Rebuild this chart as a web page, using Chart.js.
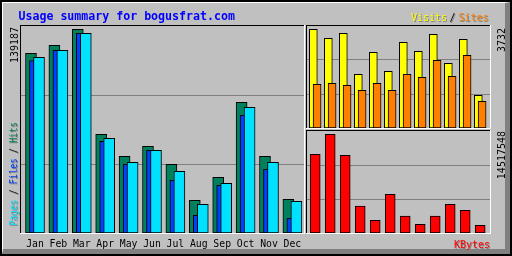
<!DOCTYPE html>
<html><head><meta charset="utf-8">
<script src="https://cdn.jsdelivr.net/npm/chart.js@4"></script>
<style>
html,body{margin:0;padding:0;background:#c0c0c0;}
#frame{position:absolute;left:0;top:0;width:512px;height:256px;box-sizing:border-box;border:2px solid #000;background:#c0c0c0;}
#bevel{position:absolute;left:0;top:0;right:0;bottom:0;border-top:1px solid #fff;border-left:1px solid #fff;border-right:5px solid #808080;border-bottom:5px solid #808080;}
canvas{position:absolute;left:0;top:0;}
</style></head><body>
<div id="frame"><div id="bevel"></div></div>
<canvas id="main" width="512" height="256"></canvas>
<canvas id="vs" width="512" height="256"></canvas>
<canvas id="kb" width="512" height="256"></canvas>
<script>
// ---- data ----
const titleText = 'Usage summary for bogusfrat.com';
const months = ['Jan','Feb','Mar','Apr','May','Jun','Jul','Aug','Sep','Oct','Nov','Dec'];
const hits   = [122790,128250,139187,67440,52410,59240,46940,22340,38060,89310,52410,23030];
const files  = [117730,124840,136460,62660,46940,56510,36010,12090,32590,80430,43530,10050];
const pages  = [120060,124840,136460,64710,48310,56510,42160,19610,33960,85890,48310,21660];
const visits = [3732,3392,3581,2030,2862,2144,3240,2900,3543,2446,3354,1236];
const sites  = [1652,1690,1614,1425,1690,1425,2030,1917,2560,1955,2749,1010];
const kbytes = [11575700,14517548,11428700,3971300,1868000,5692300,2500500,1279700,2500500,4221400,3338900,1132600];
const maxLabels = ['139187','3732','14517548'];
const seriesNames = ['Pages','Files','Hits','Visits','Sites','KBytes'];

// ---- styles ----
const C = {pages:'#00e0ff', files:'#0040ff', hits:'#00805c', visits:'#ffff00', sites:'#ff8000', kbytes:'#ff0000', grid:'#808080', shadow:'#808080'};
const MONO = "'DejaVu Sans Mono', monospace";

function yAxis(max){
  return { type:'linear', min:0, max:max, display:true,
    afterFit: s => { s.width = 0; },
    afterBuildTicks: s => { s.ticks = [{value:max/3},{value:2*max/3}]; },
    ticks:{display:false},
    grid:{color:C.grid, lineWidth:1, drawTicks:false},
    border:{display:false} };
}
function xAxis(min, max, show){
  const ax = { type:'linear', min:min, max:max, offset:false, display:show,
    grid:{display:false, drawTicks:false, offset:false}, border:{display:false} };
  if (show){
    ax.afterBuildTicks = s => { s.ticks = months.map((m,i)=>({value:i})); };
    ax.afterFit = s => { s.height = 23; };
    ax.ticks = { callback:(v,i)=>months[i], color:'#000', autoSkip:false, maxRotation:0, minRotation:0,
      font:{family:MONO, size:9.8}, padding:5.5 };
  }
  return ax;
}
function bar(data, color, off, thick, order){
  return { data: data.map((v,i)=>({x:i+off, y:v})), backgroundColor:color, borderColor:'#000',
    borderWidth:1, borderSkipped:false, barThickness:thick, grouped:false, order:order };
}
const framePlugin = { id:'frame', afterDraw(chart){
  const {ctx, chartArea:a} = chart;
  ctx.save();
  ctx.fillStyle='#000';
  ctx.fillRect(a.left-1, a.top-1, a.right-a.left+1, 1);
  ctx.fillRect(a.left-1, a.top-1, 1, a.bottom-a.top+1);
  ctx.fillStyle='#fff';
  ctx.fillRect(a.left-1, a.bottom, a.right-a.left+2, 1);
  ctx.fillRect(a.right, a.top-1, 1, a.bottom-a.top+2);
  ctx.restore();
}};
function drawText(ctx, t, x, y, o){
  const layers = o.shadow ? [[1,1,o.shadow],[0,0,o.color]] : [[0,0,o.color]];
  for (const [dx,dy,col] of layers){
    ctx.save(); ctx.translate(x+dx, y+dy); if (o.rot) ctx.rotate(o.rot); if (o.sx) ctx.scale(o.sx,1);
    ctx.font=o.font; ctx.fillStyle=col; ctx.textAlign=o.align||'left'; ctx.textBaseline='alphabetic';
    ctx.fillText(t,0,0); ctx.restore();
  }
}
function upParts(ctx, parts, x, y, font, sx, shadow){
  ctx.save(); ctx.font=font; let off=0;
  for (const [t,c] of parts){
    const w = ctx.measureText(t).width*sx;
    drawText(ctx, t, x, y-off, {font, color:c, rot:-Math.PI/2, sx, shadow});
    off += w;
  }
  ctx.restore();
}
const common = { responsive:false, animation:false, events:[], devicePixelRatio:1,
  plugins:{legend:{display:false}, tooltip:{enabled:false}, title:{display:false}} };

// ---- main chart ----
new Chart(document.getElementById('main'), {
  type:'bar',
  data:{ datasets:[ bar(pages,C.pages,0.171,11,1), bar(files,C.files,0,11,2), bar(hits,C.hits,-0.171,11,3) ] },
  options:{ ...common,
    layout:{padding:{left:21, top:26, right:208, bottom:0}},
    scales:{ x: xAxis(-0.598, 11.496, true), y: yAxis(141440) } },
  plugins:[framePlugin, { id:'mainText', afterDraw(chart){
    const ctx = chart.ctx;
    drawText(ctx, titleText, 18.5, 19.5, {font:"bold 11.6px "+MONO, color:'#0000ff'});
    drawText(ctx, maxLabels[0], 17.5, 27, {font:"10px "+MONO, color:'#000', rot:-Math.PI/2, align:'right'});
    upParts(ctx, [[seriesNames[0],C.pages],[' / ','#000'],[seriesNames[1],C.files],[' / ','#000'],[seriesNames[2],C.hits]],
      16.5, 225.5, "11px "+MONO, 0.78, C.shadow);
  }}]
});

// ---- visits / sites ----
new Chart(document.getElementById('vs'), {
  type:'bar',
  data:{ datasets:[ bar(sites,C.sites,0.125,8,1), bar(visits,C.visits,-0.125,8,2) ] },
  options:{ ...common,
    layout:{padding:{left:307, top:26, right:22, bottom:128}},
    scales:{ x: xAxis(-0.547, 11.653, false), y: yAxis(3857) } },
  plugins:[framePlugin, { id:'vsText', afterDraw(chart){
    const ctx = chart.ctx;
    drawText(ctx, maxLabels[1], 504.5, 28, {font:"10px "+MONO, color:'#000', rot:-Math.PI/2, align:'right'});
    drawText(ctx, seriesNames[3], 411, 21, {font:"10px "+MONO, color:C.visits, shadow:C.shadow});
    drawText(ctx, '/', 449.5, 21, {font:"10px "+MONO, color:'#000', shadow:C.shadow});
    drawText(ctx, seriesNames[4], 458.5, 21, {font:"10px "+MONO, color:C.sites, shadow:C.shadow});
  }}]
});

// ---- kbytes ----
new Chart(document.getElementById('kb'), {
  type:'bar',
  data:{ datasets:[ bar(kbytes,C.kbytes,0,10,1) ] },
  options:{ ...common,
    layout:{padding:{left:307, top:131, right:22, bottom:23}},
    scales:{ x: xAxis(-0.547, 11.653, false), y: yAxis(15003000) } },
  plugins:[framePlugin, { id:'kbText', afterDraw(chart){
    const ctx = chart.ctx;
    drawText(ctx, maxLabels[2], 504.5, 131, {font:"10px "+MONO, color:'#000', rot:-Math.PI/2, align:'right'});
    drawText(ctx, seriesNames[5], 490, 247.5, {font:"10px "+MONO, color:C.kbytes, shadow:C.shadow, align:'right'});
  }}]
});
</script>
</body></html>
